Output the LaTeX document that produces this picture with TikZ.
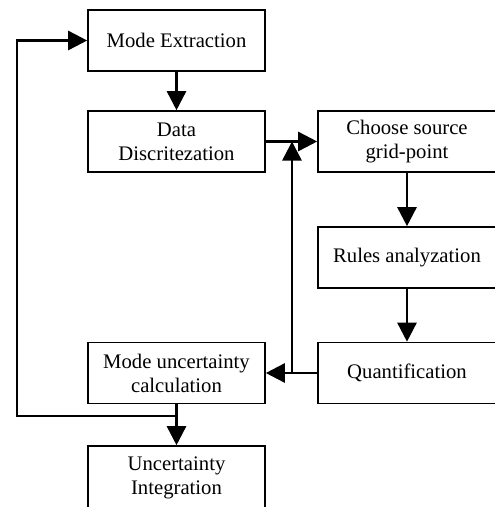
\documentclass[tikz,border=0pt]{standalone}
\usepackage{fontspec}
\setmainfont{Liberation Serif}
\usetikzlibrary{arrows.meta}
\begin{document}
\begin{tikzpicture}[x=1pt,y=-1pt,
  box/.style={draw,line width=1.6pt,minimum width=177pt,minimum height=61pt,align=center,inner sep=0pt,font=\fontsize{20.7}{24}\selectfont},
  rbox/.style={box,minimum width=178pt},
  conn/.style={line width=2.6pt,-{Triangle[length=19pt,width=19pt]}},
  plain/.style={line width=2.6pt}]
\useasboundingbox (0,0) rectangle (495,507);
\clip (0,0) rectangle (495,507);
\node[box] (me) at (176.5,40.5) {Mode Extraction};
\node[box] (dd) at (176.5,141.5) {Data\\Discritezation};
\node[rbox] (cs) at (407,141.5) {Choose source\\grid-point};
\node[rbox] (ra) at (407,257.5) {Rules analyzation};
\node[rbox] (q) at (407,373) {Quantification};
\node[box] (mu) at (176.5,373) {Mode uncertainty\\calculation};
\node[box,minimum height=64pt] (ui) at (176.5,478) {Uncertainty\\Integration};
\coordinate (j1) at (292,373);
\coordinate (j2) at (292,141.5);
\coordinate (j3) at (176.5,416);
\coordinate (c1) at (17,416);
\draw[conn] (me) -- (dd);
\draw[conn] (dd) -- (cs);
\draw[conn] (cs) -- (ra);
\draw[conn] (ra) -- (q);
\draw[conn] (q) -- (mu);
\draw[conn] (j1) -- (j2);
\draw[conn] (mu) -- (ui);
\draw[conn] (j3) -- (c1) |- (me.west);
\end{tikzpicture}
\end{document}
